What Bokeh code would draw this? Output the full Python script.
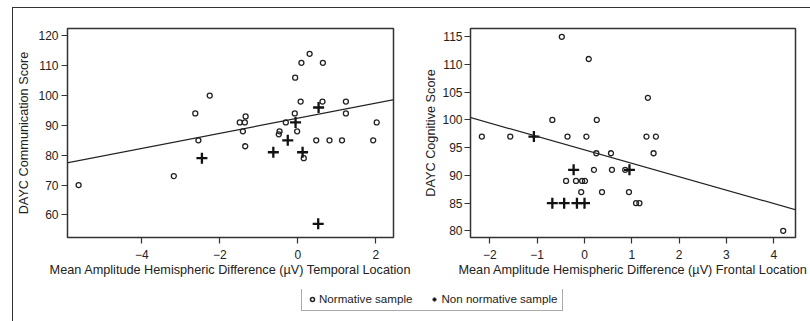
from bokeh.plotting import figure
from bokeh.layouts import column, row
from bokeh.models import Range1d, FixedTicker, Slope, Legend, LegendItem
from bokeh.embed import file_html
from bokeh.resources import INLINE

# ---------------- data: left panel (temporal location) ----------------
temp_norm_x = [-5.62, -3.18, -2.63, -2.55, -2.26, -1.49, -1.36, -1.34, -1.41, -1.35,
               -0.47, -0.49, -0.31, -0.08, -0.07, 0.07, 0.09, 0.30, -0.02, 0.15,
               0.47, 0.63, 0.64, 0.81, 1.13, 1.23, 1.23, 1.93, 2.02]
temp_norm_y = [70, 73, 94, 85, 100, 91, 91, 93, 88, 83,
               88, 87, 91, 94, 106, 98, 111, 114, 88, 79,
               85, 98, 111, 85, 85, 98, 94, 85, 91]
temp_non_x = [-2.46, -0.63, -0.26, -0.06, 0.12, 0.53, 0.52]
temp_non_y = [79, 81, 85, 91, 81, 96, 57]
temp_fit_intercept = 92.4
temp_fit_slope = 2.53
temp_xticks = [-4, -2, 0, 2]
temp_yticks = [60, 70, 80, 90, 100, 110, 120]

# ---------------- data: right panel (frontal location) ----------------
front_norm_x = [-2.17, -1.57, -0.68, -0.48, -0.36, 0.04, 0.09, 0.26, 0.25, 0.56,
                1.31, 1.34, 1.51, 1.46, -0.39, -0.18, -0.05, 0.01, -0.07, 0.20,
                0.37, 0.58, 0.86, 0.94, 1.09, 1.16, 4.20]
front_norm_y = [97, 97, 100, 115, 97, 97, 111, 100, 94, 94,
                97, 104, 97, 94, 89, 89, 89, 89, 87, 91,
                87, 91, 91, 87, 85, 85, 80]
front_non_x = [-1.07, -0.23, 0.95, -0.68, -0.43, -0.16, 0.00]
front_non_y = [97, 91, 91, 85, 85, 85, 85]
front_fit_intercept = 94.6
front_fit_slope = -2.42
front_xticks = [-2, -1, 0, 1, 2, 3, 4]
front_yticks = [80, 85, 90, 95, 100, 105, 110, 115]

legend_labels = ["Normative sample", "Non normative sample"]

FONT = "Liberation Sans"
INK = "#222222"


def tick_label(v):
    return ("\u2212" + str(abs(v))) if v < 0 else str(v)


def make_panel(width, height, xr, yr, borders, xlabel, ylabel, xticks, yticks,
               nx, ny, cx, cy, b0, b1, ylab_standoff):
    p = figure(width=width, height=height, x_range=Range1d(*xr), y_range=Range1d(*yr),
               toolbar_location=None, output_backend="svg",
               min_border_left=borders[0], min_border_right=borders[1],
               min_border_top=borders[2], min_border_bottom=borders[3])
    p.background_fill_color = "white"
    p.border_fill_color = "white"
    p.grid.visible = False
    p.outline_line_color = "#333333"
    p.outline_line_width = 1.5
    for ax in (p.xaxis[0], p.yaxis[0]):
        ax.axis_line_color = None
        ax.major_tick_line_color = "#333333"
        ax.major_tick_line_width = 1.2
        ax.major_tick_out = 6
        ax.major_tick_in = 0
        ax.minor_tick_line_color = None
        ax.major_label_text_font = FONT
        ax.major_label_text_font_size = "12px"
        ax.major_label_text_color = INK
        ax.axis_label_text_font = FONT
        ax.axis_label_text_font_size = "12.7px"
        ax.axis_label_text_font_style = "normal"
        ax.axis_label_text_color = INK
    p.xaxis.ticker = FixedTicker(ticks=xticks)
    p.xaxis.major_label_overrides = {t: tick_label(t) for t in xticks}
    p.xaxis.axis_label = xlabel
    p.xaxis.major_label_standoff = 6
    p.xaxis.axis_label_standoff = 1

    p.yaxis.ticker = FixedTicker(ticks=yticks)
    p.yaxis.major_label_overrides = {t: tick_label(t) for t in yticks}
    p.yaxis.major_label_standoff = ylab_standoff[0]
    p.yaxis.axis_label = ylabel
    p.yaxis.axis_label_standoff = ylab_standoff[1]

    p.add_layout(Slope(gradient=b1, y_intercept=b0, line_color=INK, line_width=1.2))
    p.scatter(nx, ny, marker="circle", size=5, fill_color=None, line_color=INK, line_width=1.3)
    p.scatter(cx, cy, marker="cross", size=11, line_color="#111111", line_width=2.3)
    return p


p1 = make_panel(408, 281, (-5.905, 2.45), (52.4, 122.5), (54, 28, 20, 47),
                "Mean Amplitude Hemispheric Difference (\u00b5V) Temporal Location",
                "DAYC Communication Score", temp_xticks, temp_yticks,
                temp_norm_x, temp_norm_y, temp_non_x, temp_non_y,
                temp_fit_intercept, temp_fit_slope, (3, 4))

p2 = make_panel(390, 281, (-2.41, 4.46), (78.8, 116.5), (48, 16, 15, 52),
                "Mean Amplitude Hemispheric Difference (\u00b5V) Frontal Location",
                "DAYC Cognitive Score", front_xticks, front_yticks,
                front_norm_x, front_norm_y, front_non_x, front_non_y,
                front_fit_intercept, front_fit_slope, (2, 1))

# legend strip (its scatter points lie outside its visible range; only the key glyphs show)
pl = figure(width=798, height=33, x_range=Range1d(1000, 1001), y_range=Range1d(1000, 1001),
            toolbar_location=None, output_backend="svg", min_border=0,
            x_axis_location=None, y_axis_location=None)
pl.grid.visible = False
pl.outline_line_color = None
pl.background_fill_color = "white"
pl.border_fill_color = "white"
r_norm = pl.scatter(temp_norm_x[:1], temp_norm_y[:1], marker="circle", size=5,
                    fill_color=None, line_color=INK, line_width=1.5)
r_non = pl.scatter(temp_non_x[:1], temp_non_y[:1], marker="cross", size=7,
                   line_color="#111111", line_width=2.0)
leg = Legend(items=[LegendItem(label=legend_labels[0], renderers=[r_norm]),
                    LegendItem(label=legend_labels[1], renderers=[r_non])],
             orientation="horizontal", location=(288, 11), margin=0, padding=5,
             spacing=17, glyph_width=10, glyph_height=12, label_height=12,
             label_standoff=2, label_text_font=FONT, label_text_font_size="11.6px",
             label_text_color=INK, border_line_color="#555555", border_line_width=1,
             background_fill_color="white", background_fill_alpha=1.0)
pl.add_layout(leg, "center")

root = column(row(p1, p2), pl, margin=(7, 0, 0, 12),
              styles={"border-top": "1.5px solid #333333", "border-left": "1.5px solid #333333"})

open("out.html", "w").write(file_html(root, INLINE))
